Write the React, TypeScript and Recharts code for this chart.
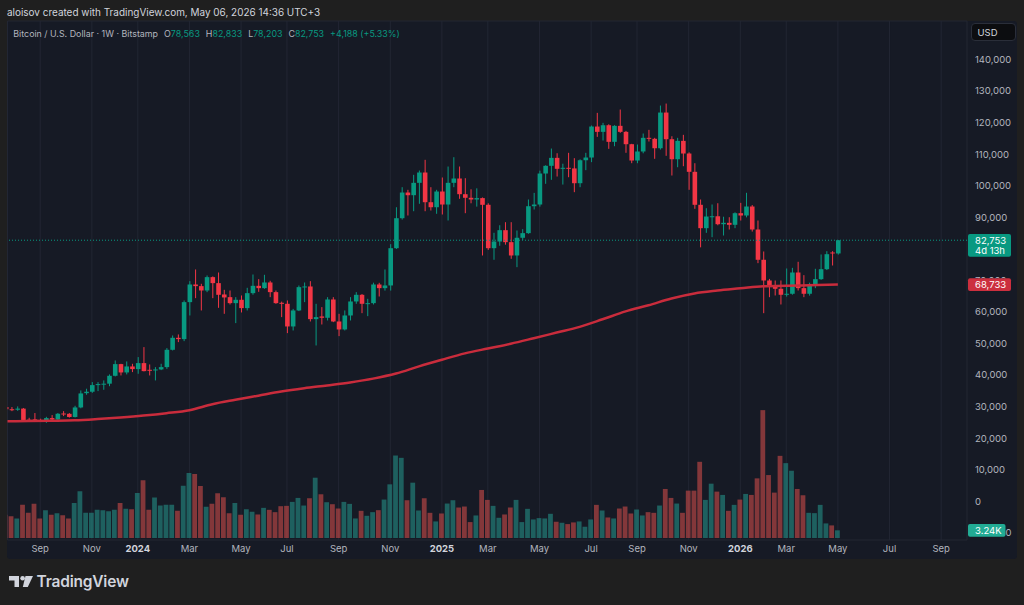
import { ComposedChart, Bar, Line, XAxis, YAxis, CartesianGrid, ReferenceLine, Cell } from 'recharts';

// weekly bars, first bar is the week of 2023-07-24 (index -23), index 0 = 2024-01-01
const FIRST_INDEX = -23;

// [open, high, low, close]
const C2023 = [
  [29900, 30300, 28900, 29200], [29200, 29900, 28600, 29050], [29050, 30100, 28700, 29400],
  [29400, 29600, 25400, 25800], [25900, 26500, 25150, 25650], [26000, 28000, 25150, 25600],
  [25800, 26200, 25250, 25600], [25500, 26800, 24900, 26400], [26400, 27350, 25700, 25950],
  [25950, 28000, 25800, 27770], [27850, 28600, 27030, 27750], [27750, 28000, 26550, 26750],
  [26750, 30300, 26600, 29770], [29770, 35160, 29500, 34210], [34300, 35700, 33800, 34750],
  [34750, 37800, 34400, 36850], [36850, 37800, 34950, 37170], [37100, 38330, 35370, 37300],
  [37300, 40230, 36500, 39800], [39800, 44660, 39600, 43500], [43500, 43600, 39910, 40860],
  [40860, 44350, 40230, 42760], [42760, 43600, 40970, 41920],
];
const C2024 = [
  [41920, 45720, 40440, 43820], [43820, 48890, 41200, 41280], [41700, 43400, 39910, 41390],
  [41490, 42550, 38330, 41810], [41810, 43610, 41600, 42550], [42550, 48570, 42000, 48040],
  [48040, 52580, 47830, 51840], [51840, 52900, 50470, 51420], [51420, 63670, 50780, 63140],
  [63140, 69790, 58910, 68730], [68730, 73490, 64400, 68210], [68210, 68950, 60500, 66830],
  [66830, 71590, 66300, 71060], [71060, 71300, 64400, 69160], [69160, 72530, 61340, 65460],
  [65570, 67040, 59440, 64620], [64720, 66830, 62400, 62820], [62820, 64720, 56490, 63880],
  [63880, 65250, 59870, 61240], [61240, 67680, 60500, 65990], [65990, 71900, 65500, 68310],
  [68310, 70420, 66410, 67570], [67570, 71800, 67360, 69370], [69370, 69900, 64720, 66310],
  [66310, 66830, 62610, 62820], [62930, 63300, 58390, 62610], [62610, 63670, 53320, 55430],
  [55430, 61000, 54160, 60500], [60500, 68400, 60300, 67890], [67890, 69370, 63140, 68100],
  [68100, 69790, 57010, 57750], [57750, 62610, 49410, 58390], [58600, 61560, 56060, 58180],
  [58180, 64720, 57330, 63980], [63980, 64720, 56800, 57010], [57010, 59440, 52370, 54480],
  [54480, 60500, 54160, 58910], [58910, 64720, 57330, 63350], [63350, 66310, 62610, 65460],
  [65460, 65700, 59650, 62610], [62610, 64190, 58700, 62820], [62820, 69300, 62400, 68730],
  [68730, 69260, 64930, 67570], [67570, 73490, 66800, 68420], [68420, 81500, 66800, 80230],
  [80230, 93210, 80000, 89730], [89730, 99560, 89300, 97870], [97870, 98730, 90590, 97020],
  [97020, 103480, 91950, 100940], [100940, 104840, 94300, 104210], [104210, 108230, 91950, 94800],
  [94800, 99560, 92170, 93210], [93210, 98730, 91130, 98190],
];
const C2025 = [
  [98190, 102630, 90910, 94070], [94070, 106110, 89010, 100940], [100940, 109060, 99560, 102310],
  [102310, 106110, 95880, 97340], [97340, 102410, 91320, 96200], [96200, 98900, 94460, 95660],
  [95660, 99200, 93400, 96100], [96100, 96300, 77920, 93980], [93980, 94460, 79700, 80230],
  [80230, 85110, 76560, 82350], [82350, 87500, 81000, 85940], [85940, 88470, 81350, 82140],
  [82140, 88470, 76870, 77920], [77920, 85840, 74220, 83530], [83530, 86260, 82840, 85000],
  [85000, 95660, 84800, 93530], [93530, 97760, 92490, 94070], [94070, 104800, 93400, 103890],
  [103890, 106500, 100630, 106330], [106330, 111810, 101900, 108850], [108850, 110320, 102940, 105380],
  [105380, 107000, 100400, 105700], [105700, 110450, 102720, 105500], [105500, 108750, 97980, 100820],
  [100820, 108400, 99560, 108100], [108100, 110450, 104950, 108960], [108960, 119100, 107500, 118780],
  [118780, 123110, 115510, 117090], [117090, 119950, 114350, 119190], [119190, 119500, 111710, 113930],
  [113930, 119200, 112540, 119000], [119000, 124170, 116780, 117090], [117090, 117400, 110450, 113180],
  [113180, 113300, 107160, 108010], [108010, 113080, 107160, 110870], [110870, 116570, 110300, 115200],
  [115200, 117730, 114030, 114890], [114890, 115200, 108550, 111900], [111900, 125430, 111490, 123210],
  [123210, 126060, 109500, 114760], [114760, 115710, 103260, 108420], [108420, 115200, 105890, 114240],
  [114240, 116150, 106210, 110230], [110230, 110600, 98730, 104430], [104430, 107160, 92710, 93980],
  [93980, 95660, 80500, 86570], [86570, 92900, 85100, 90270], [90200, 94080, 83720, 90350],
  [90350, 94480, 87500, 87830], [87830, 90200, 84250, 88270], [88270, 90050, 86150, 87640],
  [87640, 91600, 86570, 91320],
];
const C2026 = [
  [91320, 94600, 89000, 90590], [90590, 97780, 90000, 93440], [93440, 93900, 85500, 86150],
  [86150, 89000, 75490, 76560], [76560, 79190, 59640, 70000], [70000, 70500, 64710, 68200],
  [68200, 70000, 65250, 67370], [67370, 70000, 62400, 65470], [65470, 73800, 64900, 65790],
  [65790, 74000, 65500, 72530], [72530, 75920, 66830, 67570], [67570, 71690, 64710, 65790],
  [65790, 69300, 65200, 68640], [68640, 73700, 67570, 70420], [70420, 78240, 70200, 73580],
  [73580, 79290, 73300, 78330], [78870, 79290, 74750, 78563], [78563, 82833, 78203, 82753],
];

// volume, thousands of BTC
const V2023 = [9.8, 9.24, 8.26, 14.0, 10.64, 14.42, 8.26, 11.76, 9.8, 10.5, 9.66, 8.26, 14.84, 19.74,
  10.64, 10.64, 11.9, 11.76, 11.34, 11.9, 14.84, 12.32, 12.18];
const V2024 = [19.04, 24.36, 11.9, 17.08, 13.72, 14.0, 14.0, 11.48, 22.12, 27.44, 27.02, 21.98, 13.16,
  14.42, 18.9, 17.22, 10.5, 14.84, 9.8, 12.18, 11.06, 9.94, 12.74, 11.9, 10.92, 13.44, 13.58, 15.26,
  16.94, 13.72, 16.8, 25.48, 18.48, 15.12, 14.28, 12.46, 15.26, 14.42, 8.26, 11.48, 9.38, 10.92, 11.76,
  16.24, 22.68, 34.86, 33.88, 15.96, 23.38, 11.62, 16.8, 10.64, 7.0];
const V2025 = [10.36, 14.56, 15.96, 12.88, 13.3, 6.72, 9.52, 20.3, 16.1, 13.58, 8.54, 9.94, 12.88, 16.1,
  6.72, 12.32, 7.84, 8.4, 8.26, 10.22, 6.86, 6.44, 5.88, 6.58, 7.0, 4.76, 7.84, 14.0, 11.62, 8.68, 8.26,
  12.46, 13.3, 10.36, 12.04, 9.52, 10.92, 10.64, 13.72, 20.72, 16.94, 14.56, 10.64, 20.02, 20.02, 32.2,
  16.1, 22.96, 19.6, 18.2, 11.48, 14.0];
const V2026 = [16.24, 18.62, 18.2, 25.2, 54.04, 26.6, 19.18, 34.72, 31.64, 28.42, 20.72, 18.06, 10.64,
  10.5, 14.0, 6.16, 5.32, 3.24];

// moving average read at sample weeks
const MA_WEEKS = [-23, -19, -15, -11, -7, -3, 1, 5, 9, 13, 17, 21, 25, 29, 33, 37, 41, 45, 49, 53, 57,
  61, 65, 69, 73, 77, 81, 85, 89, 93, 97, 101, 105, 109, 113, 117, 122];
const MA_VALUES = [25400, 25450, 25550, 25700, 26100, 26600, 27200, 27950, 28900, 30800, 32200, 33500,
  34800, 35850, 36750, 37700, 38900, 40500, 42800, 44900, 46900, 48450, 49950, 51700, 53500, 55300,
  57700, 60200, 62150, 64300, 65900, 66800, 67500, 68200, 68300, 68500, 68733];

const MONTH_TICKS = [-17, -8, 0, 9, 18, 26, 35, 44, 53, 61, 70, 79, 87, 96, 105, 113, 122, 131, 140];
const MONTH_LABELS = ['Sep', 'Nov', '2024', 'Mar', 'May', 'Jul', 'Sep', 'Nov', '2025', 'Mar', 'May',
  'Jul', 'Sep', 'Nov', '2026', 'Mar', 'May', 'Jul', 'Sep'];
const PRICE_TICKS = [-10000, 0, 10000, 20000, 30000, 40000, 50000, 60000, 70000, 80000, 90000, 100000,
  110000, 120000, 130000, 140000];

const LAST_CLOSE = 82753;
const LAST_MA = 68733;
const LAST_VOL = 3.24;

const UP = '#089981';
const DOWN = '#f23645';
const MA_COLOR = '#c92c3c';
const TEXT = '#b2b5be';
const FONT = 'Inter, "Noto Sans", sans-serif';

const candles = [...C2023, ...C2024, ...C2025, ...C2026];
const volumes = [...V2023, ...V2024, ...V2025, ...V2026];
const rows = candles.map((q, k) => ({
  i: FIRST_INDEX + k, o: q[0], h: q[1], l: q[2], c: q[3], v: volumes[k],
}));
const maRows = MA_WEEKS.map((w, k) => ({ i: w, ma: MA_VALUES[k] }));

const Candle = (props: any) => {
  const { x, y, width, height, payload } = props;
  const { o, h, l, c } = payload;
  const cx = x + width / 2;
  const k = h === l ? 0 : height / (h - l);
  const yO = y + (h - o) * k;
  const yC = y + (h - c) * k;
  const color = c >= o ? UP : DOWN;
  const top = Math.min(yO, yC);
  const bh = Math.max(Math.abs(yO - yC), 1);
  return (
    <g>
      <rect x={cx - 0.5} y={y} width={1} height={Math.max(height, 1)} fill={color} />
      <rect x={cx - width / 2} y={top} width={width} height={bh} fill={color} />
    </g>
  );
};

const PriceTick = (props: any) => {
  const { y, payload } = props;
  const v = payload.value;
  if (v === 80000) return null;
  let clip: any = null;
  if (v === 70000) clip = { x: 960, y: 0, w: 64, h: 278.3 };
  if (v === -10000) clip = { x: 1005.5, y: 0, w: 30, h: 605 };
  const id = `tick-clip-${v}`;
  return (
    <g>
      {clip && (
        <clipPath id={id}>
          <rect x={clip.x} y={clip.y} width={clip.w} height={clip.h} />
        </clipPath>
      )}
      <text x={975} y={y} dy="0.35em" fill={TEXT} fontSize={9.5} fontFamily={FONT}
        clipPath={clip ? `url(#${id})` : undefined}>
        {v.toLocaleString('en-US').replace('-', '−')}
      </text>
    </g>
  );
};

const TimeTick = (props: any) => {
  const { x, payload } = props;
  const k = MONTH_TICKS.indexOf(payload.value);
  const label = MONTH_LABELS[k];
  const year = /^\d{4}$/.test(label);
  return (
    <text x={x} y={551.5} textAnchor="middle" fill={year ? '#d1d4dc' : TEXT}
      fontSize={9.5} fontWeight={year ? 700 : 400} fontFamily={FONT}>
      {label}
    </text>
  );
};

const Tag = (props: any) => {
  const { viewBox, lines, fill, w } = props;
  const left = viewBox.x + viewBox.width + 1;
  const cy = viewBox.y;
  const h = lines.length > 1 ? 22.7 : 12.7;
  return (
    <g>
      <rect x={left} y={cy - 6.3} width={w} height={h} rx={2} fill={fill} />
      {lines.map((t: string, n: number) => (
        <text key={n} x={left + 7} y={cy + n * 10.7} dy="0.35em" fill="#ffffff"
          fontSize={9.5} fontFamily={FONT}>{t}</text>
      ))}
    </g>
  );
};

const Logo = () => (
  <svg width={140} height={24} style={{ position: 'absolute', left: 6, top: 571 }}>
    <path d="M3 5 H13 V16 H8.5 V9.5 H3 Z" fill="#d1d4dc" />
    <circle cx={16.6} cy={7.3} r={2.3} fill="#d1d4dc" />
    <path d="M19.5 5 H27 L21.8 16 H16.8 Z" fill="#d1d4dc" />
    <text x={30.5} y={16.3} fill="#d1d4dc" fontSize={15.5} fontWeight={600} fontFamily={FONT}
      letterSpacing={-0.2}>TradingView</text>
  </svg>
);

const App = () => {
  const v = { color: UP };
  return (
    <div style={{ position: 'fixed', left: 0, top: 0, width: 1024, height: 605, background: '#1f1f1f', overflow: 'hidden' }}>
      <div style={{ position: 'absolute', left: 7, top: 6, color: '#d1d4dc', fontSize: 9.95, fontFamily: FONT, lineHeight: '12px' }}>
        aloisov created with TradingView.com, May 06, 2026 14:36 UTC+3
      </div>
      <div style={{ position: 'absolute', left: 7, top: 21, width: 1010, height: 538, background: '#161a25', borderRadius: 3 }} />
      <div style={{ position: 'absolute', left: 0, top: 0 }}>
        <ComposedChart width={1024} height={605} data={rows}
          margin={{ top: 21, right: 7, bottom: 45, left: 7.5 }}>
          <CartesianGrid stroke="#222633" strokeWidth={1} />
          <XAxis dataKey="i" type="number" domain={[-22.7, 144.5]} allowDataOverflow
            ticks={MONTH_TICKS} interval={0} axisLine={false} tickLine={false} height={20}
            tick={<TimeTick />} />
          <XAxis xAxisId="vx" dataKey="i" type="number" domain={[-22.7, 144.5]} allowDataOverflow hide />
          <YAxis yAxisId="p" orientation="right" type="number" domain={[-12231, 152218]} allowDataOverflow
            ticks={PRICE_TICKS} interval={0} axisLine={false} tickLine={false} width={50}
            tickSize={6} tickMargin={2} tick={<PriceTick />} />
          <YAxis yAxisId="vol" type="number" domain={[-0.85, 218.5]} allowDataOverflow hide />
          <Bar xAxisId="vx" yAxisId="vol" dataKey="v" barSize={4.8} isAnimationActive={false}>
            {rows.map((r) => (
              <Cell key={r.i} fill={r.c >= r.o ? '#26a69a' : '#ef5350'} fillOpacity={0.5} />
            ))}
          </Bar>
          <ReferenceLine yAxisId="p" y={LAST_CLOSE} stroke={UP} strokeDasharray="1 2" strokeWidth={1}
            label={<Tag lines={['82,753', '4d 13h']} fill={UP} w={43} />} />
          <Line yAxisId="p" data={maRows} dataKey="ma" type="monotone" stroke={MA_COLOR} strokeWidth={2.5}
            dot={false} connectNulls isAnimationActive={false} />
          <Bar yAxisId="p" dataKey={(d: any) => [d.l, d.h]} barSize={4.6} shape={<Candle />}
            isAnimationActive={false} />
          <ReferenceLine yAxisId="p" y={LAST_MA} stroke="none" strokeWidth={0}
            label={<Tag lines={['68,733']} fill="#cc2f3e" w={43} />} />
          <ReferenceLine yAxisId="vol" xAxisId="vx" y={LAST_VOL} stroke="none" strokeWidth={0}
            label={<Tag lines={['3.24K']} fill="#22ab94" w={37.5} />} />
        </ComposedChart>
      </div>
      <div style={{ position: 'absolute', left: 970.5, top: 23.4, width: 45, height: 18, background: '#0c0d10', border: '1px solid #2a2e39', borderRadius: 4, boxSizing: 'border-box' }}>
        <span style={{ position: 'absolute', left: 6, top: 3, color: '#d1d4dc', fontSize: 9.5, fontFamily: FONT, lineHeight: '11px' }}>USD</span>
      </div>
      <div style={{ position: 'absolute', left: 13.3, top: 27.5, display: 'flex', gap: 6, fontSize: 8.9, fontFamily: FONT, lineHeight: '11px', whiteSpace: 'nowrap', color: TEXT }}>
        <span>Bitcoin / U.S. Dollar · 1W · Bitstamp</span>
        <span>O<span style={v}>78,563</span></span>
        <span>H<span style={v}>82,833</span></span>
        <span>L<span style={v}>78,203</span></span>
        <span>C<span style={v}>82,753</span></span>
        <span style={v}>+4,188 (+5.33%)</span>
      </div>
      <Logo />
    </div>
  );
};

export default App;
